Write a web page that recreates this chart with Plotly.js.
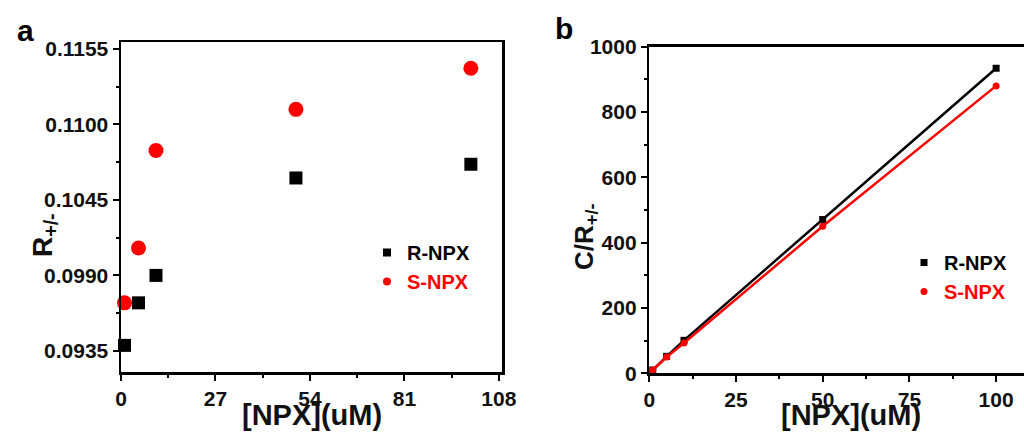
<!DOCTYPE html>
<html>
<head>
<meta charset="utf-8">
<script src="https://cdn.plot.ly/plotly-3.0.1.min.js"></script>
<style>
  html, body { margin: 0; padding: 0; overflow: hidden; background: #fff; }
  #chart { width: 1060px; height: 434px; }
</style>
</head>
<body>
<div id="chart"></div>
<script>
// ---- data ----
const concentration = [1, 5, 10, 50, 100];            // [NPX] (uM)
const rNpxRatio = [0.0939, 0.0970, 0.0990, 0.1061, 0.1071];  // panel a, R-NPX, R+/-
const sNpxRatio = [0.0970, 0.1010, 0.1081, 0.1111, 0.1141];  // panel a, S-NPX, R+/-
const rNpxCR = [10, 52, 101, 471, 934];               // panel b, R-NPX, C/R+/-
const sNpxCR = [10, 50, 93, 450, 880];                // panel b, S-NPX, C/R+/-
const seriesNames = ['R-NPX', 'S-NPX'];
const panelLabels = ['a', 'b'];
const xTitle = '[NPX](uM)';
const yTitleA = 'R<sub>+/-</sub>';
const yTitleB = 'C/R<sub>+/-</sub>';

// ---- geometry / style ----
const W = 1060, H = 434;
const FONT = '"Liberation Sans", Arial, Helvetica, sans-serif';
const RED = '#ff0000', BLACK = '#000000';
const px = v => v / W;
const py = v => 1 - v / H;

const axisBase = {
  showline: true, linewidth: 2.5, linecolor: BLACK, mirror: true,
  ticks: 'outside', ticklen: 6, tickwidth: 2, tickcolor: BLACK,
  showgrid: false, zeroline: false,
  tickfont: { family: FONT, size: 21, weight: 700, color: '#111' }
};
const minorBase = { ticks: 'outside', ticklen: 3, tickwidth: 2, tickcolor: BLACK };

const traces = [
  // panel a
  { x: concentration, y: rNpxRatio, mode: 'markers', type: 'scatter', xaxis: 'x', yaxis: 'y',
    marker: { symbol: 'square', size: 13, color: BLACK }, showlegend: false, cliponaxis: false },
  { x: concentration, y: sNpxRatio, mode: 'markers', type: 'scatter', xaxis: 'x', yaxis: 'y',
    marker: { symbol: 'circle', size: 15, color: RED }, showlegend: false, cliponaxis: false },
  // panel b
  { x: concentration, y: rNpxCR, mode: 'lines+markers', type: 'scatter', xaxis: 'x2', yaxis: 'y2',
    line: { color: BLACK, width: 2.5 }, marker: { symbol: 'square', size: 7, color: BLACK },
    showlegend: false, cliponaxis: false },
  { x: concentration, y: sNpxCR, mode: 'lines+markers', type: 'scatter', xaxis: 'x2', yaxis: 'y2',
    line: { color: RED, width: 2.5 }, marker: { symbol: 'circle', size: 7, color: RED },
    showlegend: false, cliponaxis: false },
  // legend entries
  { x: [null], y: [null], mode: 'markers', type: 'scatter', xaxis: 'x', yaxis: 'y',
    name: seriesNames[0], legend: 'legend', marker: { symbol: 'square', size: 8, color: BLACK } },
  { x: [null], y: [null], mode: 'markers', type: 'scatter', xaxis: 'x', yaxis: 'y',
    name: '<span style="color:' + RED + '">' + seriesNames[1] + '</span>', legend: 'legend',
    marker: { symbol: 'circle', size: 8, color: RED } },
  { x: [null], y: [null], mode: 'markers', type: 'scatter', xaxis: 'x2', yaxis: 'y2',
    name: seriesNames[0], legend: 'legend2', marker: { symbol: 'square', size: 7, color: BLACK } },
  { x: [null], y: [null], mode: 'markers', type: 'scatter', xaxis: 'x2', yaxis: 'y2',
    name: '<span style="color:' + RED + '">' + seriesNames[1] + '</span>', legend: 'legend2',
    marker: { symbol: 'circle', size: 7, color: RED } }
];

const legendBase = {
  xanchor: 'left', yanchor: 'top', bgcolor: 'rgba(0,0,0,0)', borderwidth: 0,
  font: { family: FONT, size: 20, weight: 700, color: BLACK }, tracegroupgap: 0
};

const titleFont = { family: FONT, size: 29, weight: 700, color: '#111' };

const layout = {
  width: W, height: H,
  margin: { l: 0, r: 0, t: 0, b: 0 },
  paper_bgcolor: '#fff', plot_bgcolor: '#fff',
  showlegend: true,
  xaxis: Object.assign({}, axisBase, {
    domain: [px(121), px(502)], range: [0, 108.9],
    tick0: 0, dtick: 27, minor: Object.assign({ tick0: 0, dtick: 13.5 }, minorBase)
  }),
  yaxis: Object.assign({}, axisBase, {
    domain: [py(372), py(42)], range: [0.09196, 0.11601],
    tick0: 0.0935, dtick: 0.0055, tickformat: '.4f',
    minor: Object.assign({ tick0: 0.0935, dtick: 0.00275 }, minorBase)
  }),
  xaxis2: Object.assign({}, axisBase, {
    anchor: 'y2', domain: [px(649.3), px(1053)], range: [0, 116.4],
    tick0: 0, dtick: 25, minor: Object.assign({ tick0: 0, dtick: 12.5 }, minorBase)
  }),
  yaxis2: Object.assign({}, axisBase, {
    anchor: 'x2', domain: [py(373.3), py(46.7)], range: [0, 1000],
    tick0: 0, dtick: 200, minor: Object.assign({ tick0: 0, dtick: 100 }, minorBase)
  }),
  legend: Object.assign({}, legendBase, { x: px(367), y: py(233) }),
  legend2: Object.assign({}, legendBase, { x: px(904), y: py(243) }),
  annotations: [
    { text: panelLabels[0], xref: 'paper', yref: 'paper', x: px(25), y: py(30),
      xanchor: 'center', yanchor: 'middle', showarrow: false,
      font: { family: FONT, size: 30, weight: 700, color: BLACK } },
    { text: panelLabels[1], xref: 'paper', yref: 'paper', x: px(564), y: py(29),
      xanchor: 'center', yanchor: 'middle', showarrow: false,
      font: { family: FONT, size: 30, weight: 700, color: BLACK } },
    { text: xTitle, xref: 'paper', yref: 'paper', x: px(311.5), y: py(415),
      xanchor: 'center', yanchor: 'middle', showarrow: false, font: titleFont },
    { text: xTitle, xref: 'paper', yref: 'paper', x: px(851), y: py(415),
      xanchor: 'center', yanchor: 'middle', showarrow: false, font: titleFont },
    { text: yTitleA, xref: 'paper', yref: 'paper', x: px(44), y: py(235), textangle: -90,
      xanchor: 'center', yanchor: 'middle', showarrow: false,
      font: { family: FONT, size: 28, weight: 700, color: '#111' } },
    { text: yTitleB, xref: 'paper', yref: 'paper', x: px(585), y: py(237), textangle: -90,
      xanchor: 'center', yanchor: 'middle', showarrow: false,
      font: { family: FONT, size: 26, weight: 700, color: '#111' } }
  ]
};

Plotly.newPlot('chart', traces, layout, { displayModeBar: false, staticPlot: true });
</script>
</body>
</html>
